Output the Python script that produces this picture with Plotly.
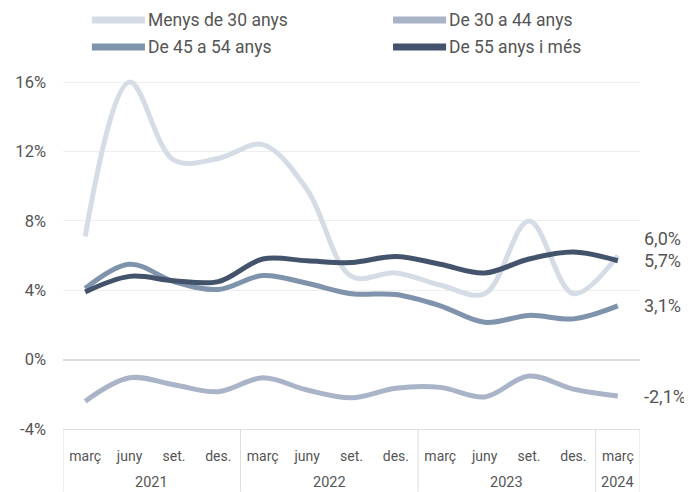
import plotly.graph_objects as go

# --- Data ---
years = ["2021"] * 4 + ["2022"] * 4 + ["2023"] * 4 + ["2024"]
months = ["març", "juny", "set.", "des."] * 3 + ["març"]

series_names = ["Menys de 30 anys", "De 30 a 44 anys", "De 45 a 54 anys", "De 55 anys i més"]
menys_30 = [7.1, 16.0, 11.5, 11.6, 12.4, 9.8, 4.8, 5.0, 4.3, 3.8, 8.0, 3.8, 6.0]
de_30_44 = [-2.4, -1.05, -1.45, -1.85, -1.05, -1.75, -2.2, -1.65, -1.6, -2.15, -0.95, -1.7, -2.1]
de_45_54 = [4.1, 5.5, 4.5, 4.05, 4.85, 4.4, 3.8, 3.75, 3.1, 2.15, 2.55, 2.35, 3.1]
de_55 = [3.9, 4.8, 4.55, 4.5, 5.8, 5.7, 5.6, 5.95, 5.5, 5.0, 5.8, 6.2, 5.7]

end_labels = ["6,0%", "-2,1%", "3,1%", "5,7%"]
y_ticks = [-4, 0, 4, 8, 12, 16]
y_ticktext = ["-4%", "0%", "4%", "8%", "12%", "16%"]

colors = ["#d6dce6", "#a9b4c8", "#7f93ad", "#43536c"]
FONT = "Roboto, sans-serif"
TEXT = "#555555"
DIV = "#dddddd"

# one unique category per quarter, shown with the month name only
x_cats = [f"{m} {y}" for m, y in zip(months, years)]

fig = go.Figure()
all_series = [menys_30, de_30_44, de_45_54, de_55]
for name, vals, col in zip(series_names, all_series, colors):
    fig.add_trace(go.Scatter(
        x=x_cats, y=vals, name=name, mode="lines",
        line=dict(color=col, width=5, shape="spline", smoothing=1.0),
        showlegend=False,
    ))

# end-of-line value labels
label_shift = [17, 0, 0, 0]
for vals, txt, sh in zip(all_series, end_labels, label_shift):
    fig.add_annotation(
        xref="paper", x=1.004, y=vals[-1], yref="y", text=txt,
        showarrow=False, xanchor="left", yanchor="middle", yshift=sh,
        font=dict(family=FONT, size=18, color=TEXT),
    )

# year groups: label under the months + divider lines
groups = []
for i, y in enumerate(years):
    if groups and groups[-1][0] == y:
        groups[-1][2] = i
    else:
        groups.append([y, i, i])
for y, i0, i1 in groups:
    fig.add_annotation(xref="x", yref="paper", x=(i0 + i1) / 2, y=-0.150,
                       text=y, showarrow=False, yanchor="middle",
                       font=dict(family=FONT, size=14.5, color=TEXT))
edges = [groups[0][1] - 0.5] + [g[2] + 0.5 for g in groups]
for e in edges:
    fig.add_shape(type="line", xref="x", yref="paper", x0=e, x1=e,
                  y0=0, y1=-0.175, line=dict(color=DIV, width=1))

# custom legend (two columns)
leg_pos = [(0.050, 1.139), (0.572, 1.139), (0.050, 1.064), (0.572, 1.064)]
for name, col, (lx, ly) in zip(series_names, colors, leg_pos):
    fig.add_shape(type="line", xref="paper", yref="paper",
                  x0=lx, x1=lx + 0.092, y0=ly, y1=ly,
                  line=dict(color=col, width=7))
    fig.add_annotation(xref="paper", yref="paper", x=lx + 0.094, y=ly,
                       text=name, showarrow=False, xanchor="left", yanchor="middle",
                       font=dict(family=FONT, size=17.5, color=TEXT))

# page body has an 8px margin, so the figure is drawn 8px smaller
fig.update_layout(
    width=684, height=484,
    margin=dict(l=55, r=52, t=62, b=63),
    paper_bgcolor="white", plot_bgcolor="white",
    font=dict(family=FONT, size=14, color=TEXT),
    showlegend=False,
)
fig.update_yaxes(
    range=[-4, 16.7], tickvals=y_ticks, ticktext=y_ticktext,
    showgrid=True, gridcolor="#eeeeee", gridwidth=1,
    zeroline=True, zerolinecolor=DIV, zerolinewidth=2,
    tickfont=dict(family=FONT, size=16.5, color=TEXT), ticklabelstandoff=16,
    automargin=False,
)
fig.update_xaxes(
    type="category", range=[-0.5, len(x_cats) - 0.5], showgrid=False,
    tickvals=x_cats, ticktext=months,
    showline=True, linecolor=DIV, linewidth=1,
    tickfont=dict(family=FONT, size=14, color=TEXT), ticklabelstandoff=14,
    automargin=False,
)

fig.write_html("out.html")
